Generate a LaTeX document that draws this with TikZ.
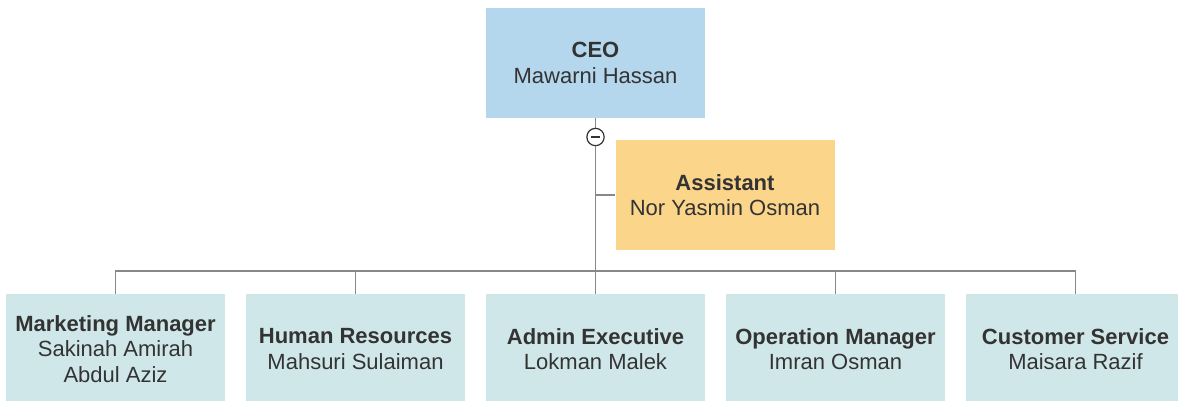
\documentclass[tikz,border=0pt]{standalone}
\usepackage{fontspec}
\setmainfont{Liberation Sans}
\definecolor{ceofill}{HTML}{B4D7EE}
\definecolor{asstfill}{HTML}{FAD58A}
\definecolor{stafffill}{HTML}{D0E7E9}
\definecolor{linkgray}{HTML}{888888}
\definecolor{textgray}{HTML}{333333}
\begin{document}
\begin{tikzpicture}[x=0.75pt, y=-0.75pt]
        \tikzstyle{box}=[rectangle, minimum width=164.25pt, minimum height=82.5pt,
            inner sep=2pt, align=center, text=textgray,
            font=\fontsize{16.5}{19}\selectfont]
        \tikzstyle{link}=[draw=linkgray, line width=1.1pt]
        \tikzstyle{toggle}=[draw=textgray, circle, fill=white, line width=0.9pt,
            minimum size=13pt, inner sep=0pt,
            path picture={\draw[textgray, line width=0.9pt]
                ([xshift=-3.2pt]path picture bounding box.center) --
                ([xshift=3.2pt]path picture bounding box.center);}]

        \useasboundingbox (0, 0) rectangle (1178, 400);

        \node[box, fill=ceofill] (ceo) at (595.5, 63) {\textbf{CEO}\\Mawarni Hassan};
        \node[box, fill=asstfill] (asst) at (725, 195) {\textbf{Assistant}\\Nor Yasmin Osman};

        \node[box, fill=stafffill] (mkt) at (115.5, 349) {\textbf{Marketing Manager}\\Sakinah Amirah\\Abdul Aziz};
        \node[box, fill=stafffill] (hr) at (355.5, 349) {\textbf{Human Resources}\\Mahsuri Sulaiman};
        \node[box, fill=stafffill] (adm) at (595.5, 349) {\textbf{Admin Executive}\\Lokman Malek};
        \node[box, fill=stafffill] (ops) at (835.5, 349) {\textbf{Operation Manager}\\Imran Osman};
        \node[box, fill=stafffill] (cs) at (1075.5, 349) {\textbf{Customer Service}\\Maisara Razif};

        \coordinate (bus) at (595.5, 271);

        \draw[link] (ceo.south) -- (bus);
        \draw[link] (ceo.south |- asst.west) -- (asst.west);
        \foreach \n in {mkt, hr, adm, ops, cs}
            \draw[link] (bus) -| (\n.north);

        \node[toggle] (fold) at (595.5, 137) {};
    \end{tikzpicture}
\end{document}
